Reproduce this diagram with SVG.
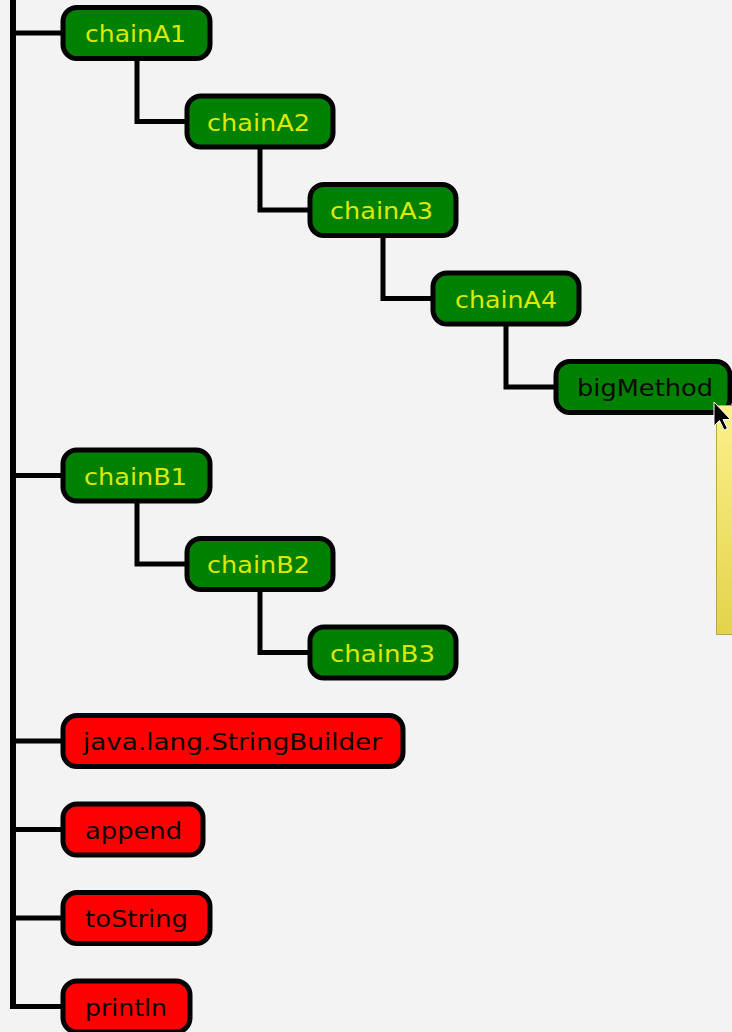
<svg xmlns="http://www.w3.org/2000/svg" width="732" height="1032" viewBox="0 0 732 1032">
<style>
.bg{fill:#f3f3f3}
.g{fill:#008000;stroke:#000;stroke-width:5}
.r{fill:#ff0000;stroke:#000;stroke-width:5}
.t{font-family:"DejaVu Sans","Verdana",sans-serif;font-size:23px}
.ty{fill:#dde800}
.tk{fill:#0a0a00}
.c{fill:none;stroke:#000;stroke-width:5;stroke-linecap:butt;stroke-linejoin:miter}
</style>
<defs>
<linearGradient id="tip" x1="0" y1="0" x2="0" y2="1">
<stop offset="0" stop-color="#fcf08c"/>
<stop offset="1" stop-color="#e2d44a"/>
</linearGradient>
</defs>
<rect class="bg" x="0" y="0" width="732" height="1032"/>
<g id="connectors">
<path class="c" d="M13 0V1009" style="stroke-width:6"/>
<path class="c" d="M13 33H63M13 475.5H63M13 741H63M13 829.5H63M13 918H63M13 1006.5H63"/>
<path class="c" d="M137 58.5V121.5H187"/>
<path class="c" d="M260 147V210H310"/>
<path class="c" d="M383 235.5V298.5H433"/>
<path class="c" d="M506 324V387H556"/>
<path class="c" d="M137 501V564H187"/>
<path class="c" d="M260 589.5V652.5H310"/>
</g>
<g id="chainA1"><rect class="g" x="63" y="7.5" width="147" height="51" rx="14"/><text class="t ty" x="85" y="42" textLength="101" lengthAdjust="spacingAndGlyphs">chainA1</text></g>
<g id="chainA2"><rect class="g" x="187" y="96" width="146" height="51" rx="14"/><text class="t ty" x="207" y="130.5" textLength="103" lengthAdjust="spacingAndGlyphs">chainA2</text></g>
<g id="chainA3"><rect class="g" x="310" y="184.5" width="146" height="51" rx="14"/><text class="t ty" x="330" y="219" textLength="103" lengthAdjust="spacingAndGlyphs">chainA3</text></g>
<g id="chainA4"><rect class="g" x="433" y="273" width="146" height="51" rx="14"/><text class="t ty" x="455" y="307.5" textLength="102" lengthAdjust="spacingAndGlyphs">chainA4</text></g>
<g id="bigMethod"><rect class="g" x="556" y="361.5" width="174" height="51" rx="14"/><text class="t tk" x="577" y="396" textLength="136" lengthAdjust="spacingAndGlyphs">bigMethod</text></g>
<g id="chainB1"><rect class="g" x="63" y="450" width="147" height="51" rx="14"/><text class="t ty" x="84" y="484.5" textLength="103" lengthAdjust="spacingAndGlyphs">chainB1</text></g>
<g id="chainB2"><rect class="g" x="187" y="538.5" width="146" height="51" rx="14"/><text class="t ty" x="207" y="573" textLength="103" lengthAdjust="spacingAndGlyphs">chainB2</text></g>
<g id="chainB3"><rect class="g" x="310" y="627" width="146" height="51" rx="14"/><text class="t ty" x="330" y="661.5" textLength="105" lengthAdjust="spacingAndGlyphs">chainB3</text></g>
<g id="stringbuilder"><rect class="r" x="63" y="715.5" width="340" height="51" rx="14"/><text class="t tk" x="83" y="750" textLength="299" lengthAdjust="spacingAndGlyphs">java.lang.StringBuilder</text></g>
<g id="append"><rect class="r" x="63" y="804" width="140" height="51" rx="14"/><text class="t tk" x="85" y="838.5" textLength="97" lengthAdjust="spacingAndGlyphs">append</text></g>
<g id="toString"><rect class="r" x="63" y="892.5" width="147" height="51" rx="14"/><text class="t tk" x="85" y="927" textLength="103" lengthAdjust="spacingAndGlyphs">toString</text></g>
<g id="println"><rect class="r" x="63" y="981" width="127" height="51" rx="14"/><text class="t tk" x="85" y="1015.5" textLength="82" lengthAdjust="spacingAndGlyphs">println</text></g>
<g id="tooltip">
<rect x="716.5" y="405.5" width="20" height="229" fill="url(#tip)" stroke="#b3a843" stroke-width="1"/>
<path d="M714 402V426L719.5 420.5L724 430L727.5 428.5L723 419.5L730.5 419.5Z" fill="#000" stroke="#fff" stroke-width="1"/>
</g>
</svg>
